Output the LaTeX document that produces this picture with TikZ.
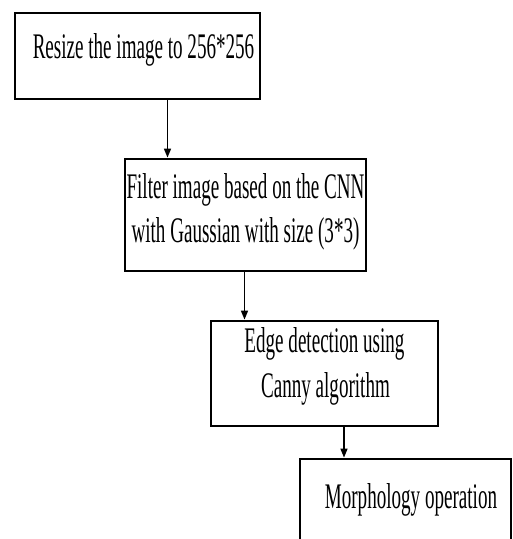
\documentclass[tikz,border=0pt]{standalone}
\usepackage{fontspec}
\usetikzlibrary{arrows.meta}
\newfontfamily\flowfont[FakeStretch=0.53]{Liberation Serif}
\begin{document}
\begin{tikzpicture}[x=1pt,y=-1pt,
  stepbox/.style={draw=black,line width=2.8pt,fill=white,inner sep=0pt,
    minimum width=#1},
  steptext/.style={anchor=base,inner sep=0pt,font=\flowfont\fontsize{36}{44}\selectfont},
  flow/.style={line width=1.5pt,-{Triangle[length=9pt,width=7pt]}}]
\useasboundingbox (0,0) rectangle (513,539);
\clip (0,0) rectangle (513,539);

% process boxes
\node[stepbox=245pt,minimum height=86pt]  (b1) at (137.5,56)    {};
\node[stepbox=241pt,minimum height=112pt] (b2) at (245.5,215)   {};
\node[stepbox=227pt,minimum height=105pt] (b3) at (324.5,373.5) {};
\node[stepbox=211pt,minimum height=121pt] (b4) at (405.5,519.5) {};

% box texts
\node[steptext] (t1)  at (143.5,58)  {Resize the image to 256*256};
\node[steptext] (t2a) at (245.5,198) {Filter image based on the CNN};
\node[steptext] (t2b) at (245.5,242) {with Gaussian with size (3*3)};
\node[steptext] (t3a) at (324.5,352) {Edge detection using};
\node[steptext] (t3b) at (325.5,397) {Canny algorithm};
\node[steptext] (t4)  at (411,508)   {Morphology operation};

% connectors
\draw[flow] (167.5,0 |- b1.south) -- (167.5,0 |- b2.north);
\draw[flow] (244.5,0 |- b2.south) -- (244.5,0 |- b3.north);
\draw[flow] (344,0 |- b3.south)   -- (344,0 |- b4.north);
\end{tikzpicture}
\end{document}
